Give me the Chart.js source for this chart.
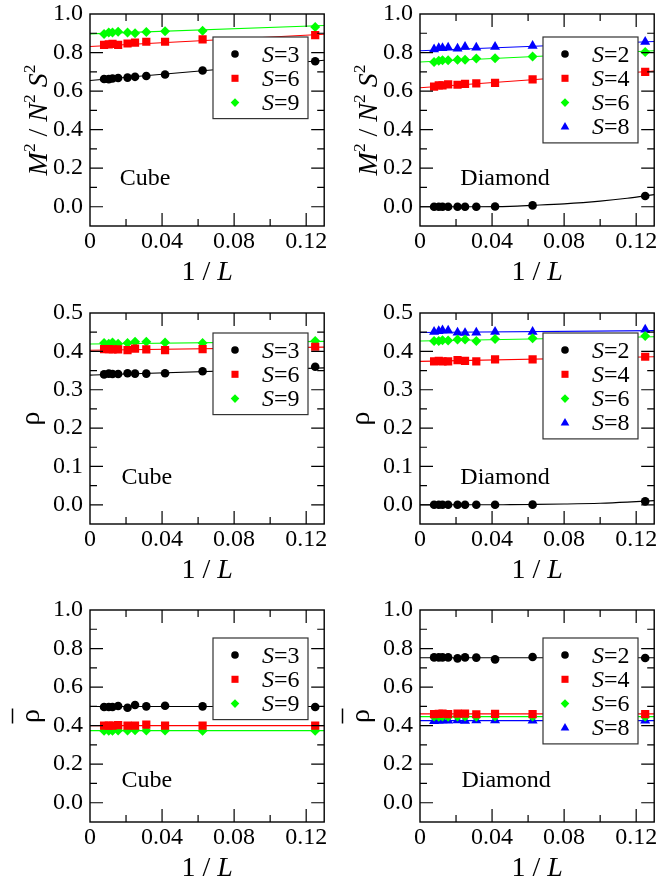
<!DOCTYPE html>
<html>
<head>
<meta charset="utf-8">
<script src="https://cdn.jsdelivr.net/npm/chart.js@4.4.0/dist/chart.umd.min.js"></script>
<style>
  html, body { margin: 0; padding: 0; background: #fff; overflow: hidden; }
  #wrap { position: relative; width: 660px; height: 877px; overflow: hidden; }
  canvas { position: absolute; }
</style>
</head>
<body>
<div id="wrap">
  <canvas id="c0" width="330" height="297" style="left:0;top:0"></canvas>
  <canvas id="c1" width="330" height="297" style="left:330px;top:0"></canvas>
  <canvas id="c2" width="330" height="297" style="left:0;top:297px"></canvas>
  <canvas id="c3" width="330" height="297" style="left:330px;top:297px"></canvas>
  <canvas id="c4" width="330" height="297" style="left:0;top:594px"></canvas>
  <canvas id="c5" width="330" height="297" style="left:330px;top:594px"></canvas>
</div>
<script>
// system sizes, x axis is 1/L
const sizesL = [8, 16, 24, 32, 40, 48, 64, 80, 96, 128];
const invL = sizesL.map(L => 1 / L);

const xTicks = [0, 0.04, 0.08, 0.12];
const xTickLabels = ['0', '0.04', '0.08', '0.12'];
const xMinor = [0.02, 0.06, 0.10];
const yTicksWide = [0, 0.2, 0.4, 0.6, 0.8, 1.0];
const yMinorWide = [0.1, 0.3, 0.5, 0.7, 0.9];
const yTicksRho = [0, 0.1, 0.2, 0.3, 0.4, 0.5];
const yMinorRho = [0.05, 0.15, 0.25, 0.35, 0.45];

// fit lines
const fitEnds = [0, 0.13];
const fitCurveX = [0, 0.03, 0.05, 0.0625, 0.08, 0.1, 0.115, 0.13];

// Cube, M^2 / N^2 S^2
const cubeM2S3 = [0.755, 0.707, 0.686, 0.678, 0.674, 0.670, 0.668, 0.665, 0.662, 0.663];
const cubeM2S6 = [0.890, 0.868, 0.856, 0.856, 0.851, 0.847, 0.840, 0.845, 0.842, 0.840];
const cubeM2S9 = [0.933, 0.913, 0.910, 0.906, 0.900, 0.904, 0.908, 0.904, 0.904, 0.896];
const cubeM2S3Fit = [0.655, 0.760];
const cubeM2S6Fit = [0.831, 0.895];
const cubeM2S9Fit = [0.897, 0.940];

// Diamond, M^2 / N^2 S^2
const diaM2S2 = [0.056, 0.007, 0.001, 0, 0, 0, 0, 0, 0, 0];
const diaM2S4 = [0.700, 0.661, 0.643, 0.640, 0.637, 0.633, 0.635, 0.630, 0.630, 0.623];
const diaM2S6 = [0.803, 0.779, 0.770, 0.769, 0.763, 0.762, 0.760, 0.760, 0.757, 0.751];
const diaM2S8 = [0.856, 0.835, 0.830, 0.826, 0.830, 0.821, 0.826, 0.823, 0.823, 0.817];
const diaM2S2Fit = [0, 0, 0.002, 0.007, 0.015, 0.029, 0.044, 0.063];
const diaM2S4Fit = [0.617, 0.704];
const diaM2S6Fit = [0.751, 0.809];
const diaM2S8Fit = [0.809, 0.857];

// Cube, rho
const cubeRhoS3 = [0.360, 0.348, 0.343, 0.342, 0.342, 0.343, 0.341, 0.341, 0.342, 0.340];
const cubeRhoS6 = [0.412, 0.406, 0.403, 0.405, 0.407, 0.403, 0.405, 0.405, 0.406, 0.406];
const cubeRhoS9 = [0.427, 0.422, 0.423, 0.425, 0.425, 0.422, 0.420, 0.423, 0.420, 0.422];
const cubeRhoS3Fit = [0.338, 0.357];
const cubeRhoS6Fit = [0.403, 0.411];
const cubeRhoS9Fit = [0.419, 0.426];

// Diamond, rho
const diaRhoS2 = [0.009, 0.0005, 0, 0, 0, 0, 0, 0, 0, 0];
const diaRhoS4 = [0.386, 0.379, 0.379, 0.374, 0.375, 0.377, 0.374, 0.374, 0.375, 0.374];
const diaRhoS6 = [0.440, 0.434, 0.432, 0.427, 0.431, 0.431, 0.428, 0.429, 0.427, 0.427];
const diaRhoS8 = [0.457, 0.451, 0.451, 0.449, 0.448, 0.449, 0.454, 0.455, 0.453, 0.451];
const diaRhoS2Fit = [0, 0, 0.0005, 0.001, 0.002, 0.004, 0.007, 0.011];
const diaRhoS4Fit = [0.374, 0.386];
const diaRhoS6Fit = [0.427, 0.438];
const diaRhoS8Fit = [0.449, 0.454];

// Cube, rho bar
const cubeRbS3 = [0.497, 0.500, 0.503, 0.500, 0.507, 0.493, 0.502, 0.497, 0.497, 0.497];
const cubeRbS6 = [0.400, 0.400, 0.400, 0.405, 0.400, 0.400, 0.403, 0.400, 0.400, 0.400];
const cubeRbS9 = [0.374, 0.374, 0.375, 0.375, 0.376, 0.375, 0.375, 0.373, 0.374, 0.374];
const cubeRbS3Fit = [0.499, 0.499];
const cubeRbS6Fit = [0.400, 0.400];
const cubeRbS9Fit = [0.374, 0.374];

// Diamond, rho bar
const diaRbS2 = [0.751, 0.756, 0.744, 0.753, 0.754, 0.749, 0.754, 0.754, 0.754, 0.754];
const diaRbS4 = [0.460, 0.460, 0.461, 0.459, 0.462, 0.462, 0.460, 0.462, 0.461, 0.460];
const diaRbS6 = [0.446, 0.447, 0.447, 0.446, 0.448, 0.447, 0.446, 0.448, 0.446, 0.447];
const diaRbS8 = [0.426, 0.426, 0.427, 0.427, 0.425, 0.427, 0.426, 0.427, 0.425, 0.424];
const diaRbS2Fit = [0.752, 0.752];
const diaRbS4Fit = [0.461, 0.461];
const diaRbS6Fit = [0.447, 0.447];
const diaRbS8Fit = [0.426, 0.426];

const BLACK = '#000000', RED = '#ff0000', GREEN = '#00ff00', BLUE = '#0000ff';
const FONT = '"Liberation Serif", "Times New Roman", serif';

const sBlack = (label, vals, fx, fy) => ({ label, vals, fx, fy, color: BLACK, style: 'circle', r: 4.3, lr: 3.8 });
const sRed = (label, vals, fx, fy) => ({ label, vals, fx, fy, color: RED, style: 'rect', r: 5.8, lr: 5.0 });
const sGreen = (label, vals, fx, fy) => ({ label, vals, fx, fy, color: GREEN, style: 'rectRot', r: 5.0, lr: 4.3 });
const sBlue = (label, vals, fx, fy) => ({ label, vals, fx, fy, color: BLUE, style: 'triangle', r: 5.8, lr: 5.0 });

const titleM2 = [{ t: 'M', it: 1 }, { t: '2', sup: 1 }, { t: ' / ' }, { t: 'N', it: 1 }, { t: '2', sup: 1 },
  { t: ' ' }, { t: 'S', it: 1 }, { t: '2', sup: 1 }];
const titleRho = [{ t: 'ρ' }];

const panels = [
  { id: 'c0', padTop: 14, padBottom: 11, yMin: -0.1, yMax: 1.0, yTicks: yTicksWide, yMinor: yMinorWide,
    title: titleM2, bar: false, name: 'Cube', nameAt: [0.0165, 0.113], legendTop: 23,
    series: [sBlack('S=3', cubeM2S3, fitEnds, cubeM2S3Fit), sRed('S=6', cubeM2S6, fitEnds, cubeM2S6Fit),
             sGreen('S=9', cubeM2S9, fitEnds, cubeM2S9Fit)] },
  { id: 'c1', padTop: 14, padBottom: 11, yMin: -0.1, yMax: 1.0, yTicks: yTicksWide, yMinor: yMinorWide,
    title: titleM2, bar: false, name: 'Diamond', nameAt: [0.0224, 0.113], legendTop: 23,
    series: [sBlack('S=2', diaM2S2, fitCurveX, diaM2S2Fit), sRed('S=4', diaM2S4, fitEnds, diaM2S4Fit),
             sGreen('S=6', diaM2S6, fitEnds, diaM2S6Fit), sBlue('S=8', diaM2S8, fitEnds, diaM2S8Fit)] },
  { id: 'c2', padTop: 16, padBottom: 10, yMin: -0.05, yMax: 0.5, yTicks: yTicksRho, yMinor: yMinorRho,
    title: titleRho, bar: false, name: 'Cube', nameAt: [0.0175, 0.0534], legendTop: 20,
    series: [sBlack('S=3', cubeRhoS3, fitEnds, cubeRhoS3Fit), sRed('S=6', cubeRhoS6, fitEnds, cubeRhoS6Fit),
             sGreen('S=9', cubeRhoS9, fitEnds, cubeRhoS9Fit)] },
  { id: 'c3', padTop: 16, padBottom: 10, yMin: -0.05, yMax: 0.5, yTicks: yTicksRho, yMinor: yMinorRho,
    title: titleRho, bar: false, name: 'Diamond', nameAt: [0.0224, 0.0534], legendTop: 20,
    series: [sBlack('S=2', diaRhoS2, fitCurveX, diaRhoS2Fit), sRed('S=4', diaRhoS4, fitEnds, diaRhoS4Fit),
             sGreen('S=6', diaRhoS6, fitEnds, diaRhoS6Fit), sBlue('S=8', diaRhoS8, fitEnds, diaRhoS8Fit)] },
  { id: 'c4', padTop: 16, padBottom: 9, yMin: -0.1, yMax: 1.0, yTicks: yTicksWide, yMinor: yMinorWide,
    title: titleRho, bar: true, name: 'Cube', nameAt: [0.0175, 0.08], legendTop: 28,
    series: [sBlack('S=3', cubeRbS3, fitEnds, cubeRbS3Fit), sRed('S=6', cubeRbS6, fitEnds, cubeRbS6Fit),
             sGreen('S=9', cubeRbS9, fitEnds, cubeRbS9Fit)] },
  { id: 'c5', padTop: 16, padBottom: 9, yMin: -0.1, yMax: 1.0, yTicks: yTicksWide, yMinor: yMinorWide,
    title: titleRho, bar: true, name: 'Diamond', nameAt: [0.023, 0.08], legendTop: 28,
    series: [sBlack('S=2', diaRbS2, fitEnds, diaRbS2Fit), sRed('S=4', diaRbS4, fitEnds, diaRbS4Fit),
             sGreen('S=6', diaRbS6, fitEnds, diaRbS6Fit), sBlue('S=8', diaRbS8, fitEnds, diaRbS8Fit)] },
];

function drawRich(ctx, parts, x, y, size, measureOnly) {
  let cx = x;
  for (const p of parts) {
    const fs = p.sup ? size * 0.62 : size;
    ctx.font = (p.it ? 'italic ' : '') + fs + 'px ' + FONT;
    if (!measureOnly) ctx.fillText(p.t, cx, p.sup ? y - size * 0.42 : y);
    cx += ctx.measureText(p.t).width;
  }
  return cx - x;
}

function makeDecor(panel) {
  return {
    id: 'decor',
    afterDatasetsDraw(chart) {
      const { ctx, chartArea: a, scales } = chart;
      const xs = scales.x, ys = scales.y;
      ctx.save();
      ctx.fillStyle = '#000';
      ctx.textAlign = 'left';
      ctx.textBaseline = 'alphabetic';

      // legend box
      const n = panel.series.length;
      const lx = a.left + 123, ly = a.top + panel.legendTop;
      const lw = 95, lh = 33 + (n - 1) * 24.3;
      ctx.fillStyle = '#fff';
      ctx.fillRect(lx, ly, lw, lh);
      ctx.strokeStyle = '#333';
      ctx.lineWidth = 1.2;
      ctx.strokeRect(lx, ly, lw, lh);
      panel.series.forEach((s, i) => {
        const cy = ly + 17 + i * 24.3;
        ctx.fillStyle = s.color;
        Chart.helpers.drawPoint(ctx, { pointStyle: s.style, radius: s.lr, rotation: 0, borderWidth: 0 }, lx + 22, cy);
        ctx.fillStyle = '#000';
        const sym = s.label.slice(0, 1), rest = s.label.slice(1);
        drawRich(ctx, [{ t: sym, it: 1 }, { t: rest }], lx + 49, cy + 7.5, 24);
      });

      // frame
      ctx.strokeStyle = '#000';
      ctx.lineWidth = 1.4;
      ctx.strokeRect(a.left, a.top, a.right - a.left, a.bottom - a.top);

      // inward ticks on all four sides
      ctx.lineWidth = 1.2;
      const tick = (vals, len) => {
        vals.forEach(v => {
          const px = xs.getPixelForValue(v);
          ctx.beginPath();
          ctx.moveTo(px, a.bottom); ctx.lineTo(px, a.bottom - len);
          ctx.moveTo(px, a.top); ctx.lineTo(px, a.top + len);
          ctx.stroke();
        });
      };
      const tickY = (vals, len) => {
        vals.forEach(v => {
          const py = ys.getPixelForValue(v);
          ctx.beginPath();
          ctx.moveTo(a.left, py); ctx.lineTo(a.left + len, py);
          ctx.moveTo(a.right, py); ctx.lineTo(a.right - len, py);
          ctx.stroke();
        });
      };
      tick(xTicks.filter(v => v > 0), 13);
      tick(xMinor, 7);
      tickY(panel.yTicks.filter(v => v < panel.yMax), 13);
      tickY(panel.yMinor, 7);

      // lattice name
      ctx.fillStyle = '#000';
      ctx.font = '24px ' + FONT;
      ctx.fillText(panel.name, xs.getPixelForValue(panel.nameAt[0]), ys.getPixelForValue(panel.nameAt[1]));

      // x title
      const xParts = [{ t: '1 / ' }, { t: 'L', it: 1 }];
      const xw = drawRich(ctx, xParts, 0, 0, 28, true);
      drawRich(ctx, xParts, (a.left + a.right) / 2 - xw / 2, a.bottom + 54, 28);

      // y title
      const midY = (a.top + a.bottom) / 2;
      const isRho = panel.title === titleRho;
      ctx.save();
      ctx.translate(a.left - (isRho ? 51 : 43), midY);
      ctx.rotate(-Math.PI / 2);
      const yw = drawRich(ctx, panel.title, 0, 0, 28, true);
      drawRich(ctx, panel.title, -yw / 2, 0, 28);
      if (panel.bar) {
        ctx.lineWidth = 1.5;
        ctx.beginPath();
        ctx.moveTo(-7.5, -26.5); ctx.lineTo(7.5, -26.5);
        ctx.stroke();
      }
      ctx.restore();

      ctx.restore();
    }
  };
}

panels.forEach(panel => {
  const datasets = [];
  panel.series.forEach(s => {
    datasets.push({
      label: s.label,
      data: invL.map((x, i) => ({ x, y: s.vals[i] })),
      showLine: false,
      pointStyle: s.style,
      pointRadius: s.r,
      pointBackgroundColor: s.color,
      pointBorderWidth: 0,
      order: 0,
    });
    datasets.push({
      label: s.label + ' fit',
      data: s.fx.map((x, i) => ({ x, y: s.fy[i] })),
      showLine: true,
      borderColor: s.color,
      borderWidth: 1.1,
      pointRadius: 0,
      tension: s.fx.length > 2 ? 0.4 : 0,
      cubicInterpolationMode: 'monotone',
      order: 1,
    });
  });

  new Chart(document.getElementById(panel.id), {
    type: 'scatter',
    data: { datasets },
    options: {
      responsive: false,
      animation: false,
      events: [],
      layout: { padding: { left: 0, right: 4, top: panel.padTop, bottom: panel.padBottom } },
      plugins: { legend: { display: false }, tooltip: { enabled: false } },
      scales: {
        x: {
          type: 'linear', min: 0, max: 0.13,
          grid: { display: false, drawTicks: false },
          border: { display: false },
          afterBuildTicks: sc => { sc.ticks = xTicks.map(v => ({ value: v })); },
          afterFit: sc => { sc.height = 60; sc.paddingLeft = 0; sc.paddingRight = 0; },
          ticks: {
            padding: 4, color: '#000', maxRotation: 0, autoSkip: false,
            font: { family: FONT, size: 24, lineHeight: 1 },
            callback: (v, i) => xTickLabels[i],
          },
        },
        y: {
          type: 'linear', min: panel.yMin, max: panel.yMax,
          grid: { display: false, drawTicks: false },
          border: { display: false },
          afterBuildTicks: sc => { sc.ticks = panel.yTicks.map(v => ({ value: v })); },
          afterFit: sc => { sc.width = 90; sc.paddingTop = 0; sc.paddingBottom = 0; },
          ticks: {
            padding: 7, color: '#000', autoSkip: false,
            font: { family: FONT, size: 24, lineHeight: 1 },
            callback: v => v.toFixed(1),
          },
        },
      },
    },
    plugins: [makeDecor(panel)],
  });
});
</script>
</body>
</html>
